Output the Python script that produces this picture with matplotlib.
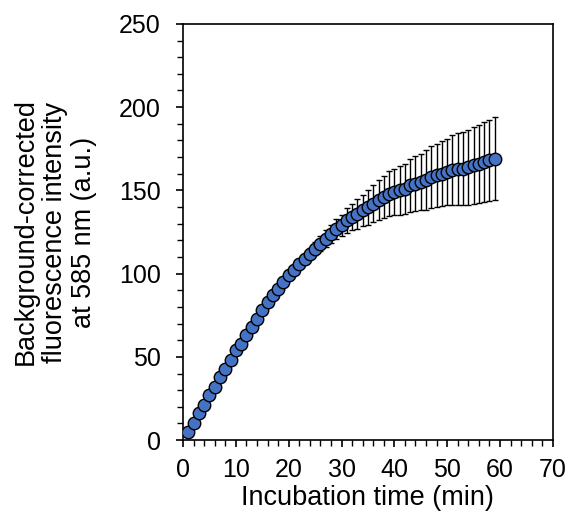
import matplotlib
matplotlib.use("Agg")
import matplotlib.pyplot as plt
import numpy as np
from matplotlib.ticker import MultipleLocator

plt.rcParams['font.family'] = ['Liberation Sans', 'DejaVu Sans']

# Incubation time (min) and mean background-corrected intensity (a.u.)
time = np.arange(1, 60)
intensity = [5, 10, 16, 21, 27, 32, 38, 43, 48, 54,
             58, 63, 68, 73, 78, 83, 87, 91, 95, 99,
             102, 106, 109, 112, 115, 118, 121, 124, 127, 129,
             132, 134, 136, 138, 140, 142, 144, 146, 148, 149,
             150, 151, 153, 154, 155, 156, 158, 159, 160, 161,
             162, 163, 163, 164, 165, 166, 167, 168, 169]
err = [0.5, 0.5, 0.5, 0.5, 0.5, 0.5, 0.5, 0.5, 0.5, 0.5,
       0.5, 0.5, 0.5, 0.5, 0.8, 1, 1, 1.2, 1.5, 1.8,
       2, 2.5, 3, 3.5, 4, 4.5, 5, 5.5, 6, 6.5,
       7.5, 8, 9, 9.5, 10.5, 11, 12, 12.5, 13.5, 14,
       14.5, 15, 16, 16.5, 17, 18, 18.5, 19, 19.5, 20,
       21, 21.5, 22, 22.5, 23, 23.5, 24, 24.5, 25]

fs_tick = 18
fs_lab = 19.5

fig = plt.figure(figsize=(5.7, 5.19), dpi=100)
ax = fig.add_axes([0.321, 0.152, 0.649, 0.802])

ax.errorbar(time, intensity, yerr=err, fmt='none', ecolor='black',
            elinewidth=1, capsize=2.5, capthick=1, zorder=2)
ax.plot(time, intensity, 'o', markersize=9, markerfacecolor='#4472C4',
        markeredgecolor='black', markeredgewidth=1, zorder=3)

ax.set_xlim(0, 70)
ax.set_ylim(0, 250)
ax.xaxis.set_major_locator(MultipleLocator(10))
ax.xaxis.set_minor_locator(MultipleLocator(2))
ax.yaxis.set_major_locator(MultipleLocator(50))
ax.yaxis.set_minor_locator(MultipleLocator(10))
ax.tick_params(which='major', direction='out', length=5, width=1.2, labelsize=fs_tick)
ax.tick_params(axis='y', which='major', pad=11)
ax.tick_params(axis='x', which='major', pad=8)
ax.tick_params(which='minor', direction='out', length=4, width=1)

for spine in ax.spines.values():
    spine.set_linewidth(1.2)

ax.set_xlabel('Incubation time (min)', fontsize=fs_lab, labelpad=2)
ax.set_ylabel('Background-corrected\nfluorescence intensity\nat 585 nm (a.u.)',
              fontsize=fs_lab, linespacing=1.15, labelpad=16)

plt.savefig('out.png', dpi=100)
